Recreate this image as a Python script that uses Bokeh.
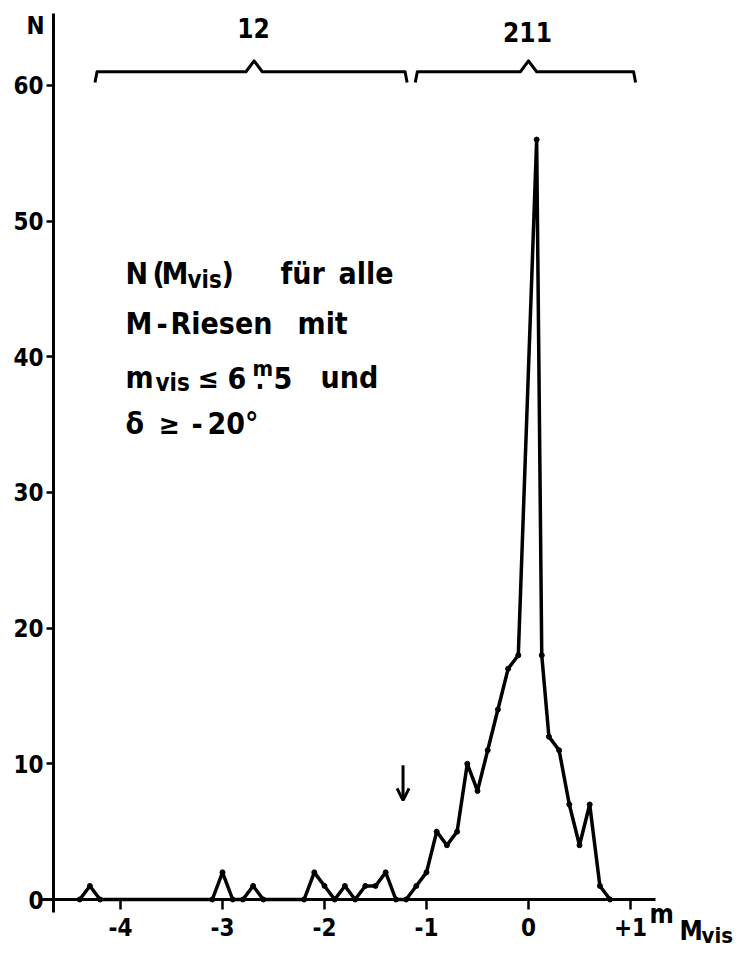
from bokeh.plotting import figure
from bokeh.models import Range1d, Label, Arrow, OpenHead, FixedTicker
from bokeh.embed import file_html
from bokeh.resources import INLINE

# ---------------- data ----------------
mvis = [-4.4, -4.3, -4.2,
        -3.1, -3.0, -2.9, -2.8, -2.7, -2.6,
        -2.2, -2.1, -2.0, -1.9, -1.8, -1.7, -1.6, -1.5, -1.4, -1.3, -1.2,
        -1.1, -1.0, -0.9, -0.8, -0.7, -0.6, -0.5, -0.4, -0.3, -0.2, -0.1,
        0.08, 0.13,
        0.2, 0.3, 0.4, 0.5, 0.6, 0.7, 0.8]
counts = [0, 1, 0,
          0, 2, 0, 0, 1, 0,
          0, 2, 1, 0, 1, 0, 1, 1, 2, 0, 0,
          1, 2, 5, 4, 5, 10, 8, 11, 14, 17, 18,
          56, 18,
          12, 11, 7, 4, 7, 1, 0]

x_ticks = [-4, -3, -2, -1, 0, 1]
x_tick_labels = ["-4", "-3", "-2", "-1", "0", "+1"]
y_ticks = [0, 10, 20, 30, 40, 50, 60]

group_edges = [(-4.25, -1.19), (-1.11, 1.05)]
group_peaks = [-2.69, 0.0]
group_totals = ["12", "211"]
arrow_x = -1.23
arrow_y = (9.9, 7.3)

# ---------------- layout (page pixels) ----------------
FONT = "DejaVu Sans Condensed"
W, H = 740, 950
X_ORG, PX_MAG = 528.0, 102.0      # page x of M=0, pixels per magnitude
Y_ORG, PX_N = 899.0, 13.57        # page y of N=0, pixels per star


def px2x(px):
    return (px - X_ORG) / PX_MAG


def py2y(py):
    return (Y_ORG - py) / PX_N


p = figure(frame_width=W, frame_height=H, min_border=0,
           x_range=Range1d(px2x(0), px2x(W)), y_range=Range1d(py2y(H), py2y(0)),
           output_backend="svg", toolbar_location=None)
p.outline_line_color = None
p.grid.visible = False
p.background_fill_color = "white"

p.xaxis.fixed_location = 0
p.xaxis.bounds = (px2x(40), px2x(655))
p.yaxis.fixed_location = px2x(53)
p.yaxis.bounds = (py2y(912), py2y(13))
for ax in (p.xaxis, p.yaxis):
    ax.axis_line_width = 3
    ax.axis_line_color = "black"
    ax.major_tick_line_width = 2.5
    ax.major_tick_line_color = "black"
    ax.major_tick_in = 0
    ax.minor_tick_line_color = None
    ax.major_label_text_font = FONT
    ax.major_label_text_font_style = "bold"
    ax.major_label_text_color = "black"
    ax.major_label_text_font_size = "24px"

p.xaxis.ticker = FixedTicker(ticks=x_ticks)
p.xaxis.major_label_overrides = {t: s for t, s in zip(x_ticks, x_tick_labels)}
p.xaxis.major_tick_out = 10
p.xaxis.major_label_standoff = 8
p.yaxis.ticker = FixedTicker(ticks=y_ticks)
p.yaxis.major_tick_out = 7
p.yaxis.major_label_standoff = 3

# data line
p.line(mvis, counts, line_width=3.5, line_color="black", line_join="round")
p.scatter(mvis, counts, size=5, color="black")


def txt(px, py, s, size, align="left"):
    # py is the wanted baseline in page pixels
    p.add_layout(Label(x=px2x(px), y=py2y(py - 0.4 * size), text=s, text_font=FONT,
                       text_font_style="bold", text_font_size=f"{size}px",
                       text_color="black", text_align=align,
                       text_baseline="alphabetic"))


# group brackets
for (xa, xb), xp, tot in zip(group_edges, group_peaks, group_totals):
    yb = 61.0
    bx = [xa, xa + 0.02, xp - 0.08, xp, xp + 0.08, xb - 0.02, xb]
    by = [yb - 0.8, yb, yb, yb + 0.8, yb, yb, yb - 0.8]
    p.line(bx, by, line_width=3, line_color="black", line_join="round")

txt(253, 38, group_totals[0], 26, "center")
txt(527, 42, group_totals[1], 26, "center")

# arrow
p.add_layout(Arrow(x_start=arrow_x, y_start=arrow_y[0], x_end=arrow_x, y_end=arrow_y[1],
                   line_width=3, line_color="black",
                   end=OpenHead(size=12, line_width=3, line_color="black")))

# axis titles
txt(35, 35, "N", 24, "center")
txt(649, 924, "m", 26)
txt(679, 941, "M", 26)
txt(701, 944, "vis", 22)

# annotation text block
txt(125, 285, "N", 30)
txt(152, 285, "(", 30)
txt(161, 285, "M", 30)
txt(187, 289, "vis", 24)
txt(221, 285, ")", 30)
txt(280, 285, "für", 30)
txt(338, 285, "alle", 30)

txt(125, 335, "M", 30)
txt(156, 335, "-", 30)
txt(170, 335, "Riesen", 30)
txt(297, 335, "mit", 30)

txt(125, 389, "m", 30)
txt(155, 392, "vis", 24)
txt(197, 389, "≤", 28)
txt(227, 389, "6", 30)
txt(252, 377, "m", 22)
txt(255, 389, ".", 26)
txt(273, 389, "5", 30)
txt(320, 389, "und", 30)

txt(125, 435, "δ", 30)
txt(158, 435, "≥", 28)
txt(191, 435, "-", 30)
txt(207, 435, "20°", 30)

open("out.html", "w").write(file_html(p, INLINE))
